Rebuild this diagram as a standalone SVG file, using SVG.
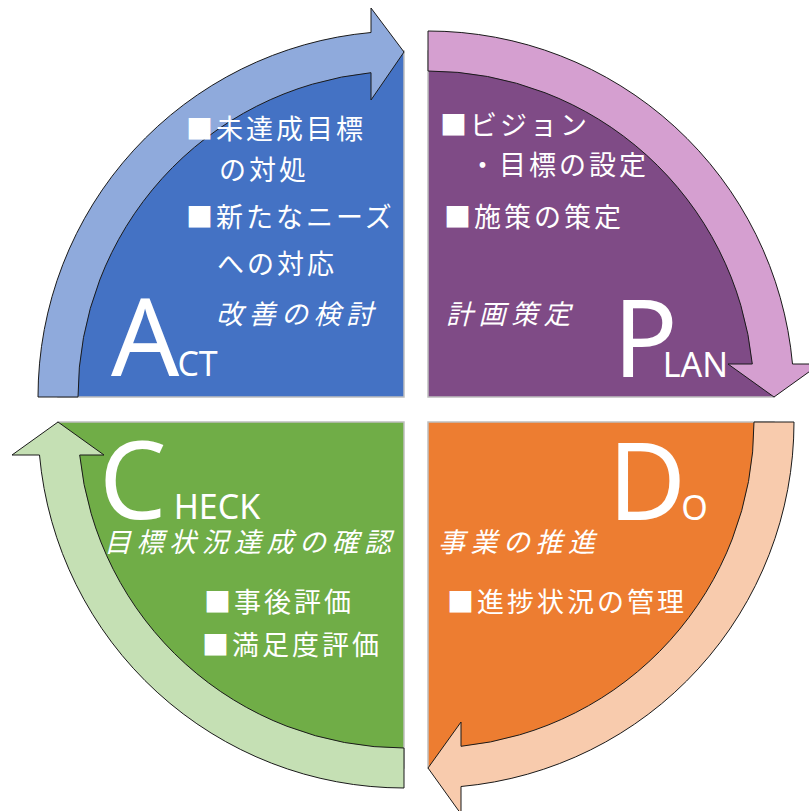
<svg xmlns="http://www.w3.org/2000/svg" width="809" height="811" viewBox="0 0 809 811">
<style>
.sector{stroke:#BFBFBF;stroke-width:1.5}
.arrow{stroke:#1A1A1A;stroke-width:1;stroke-linejoin:miter}
.jp{font-family:"Noto Sans CJK JP","Noto Sans",sans-serif;font-size:27px;fill:#FFFFFF;letter-spacing:3px}
.it{font-style:italic;letter-spacing:5.5px}
.big{font-family:"Noto Sans","Open Sans",sans-serif;font-size:107px;fill:#FFFFFF}
.sm{font-size:34px}
</style>
<rect width="809" height="811" fill="#FFFFFF"/>
<g id="act">
<path class="sector" d="M404,397 L58,397 A346,346 0 0 1 404,51 Z" fill="#4472C4"/>
</g>
<g id="plan">
<path class="sector" d="M428,397 L428,51 A346,346 0 0 1 774,397 Z" fill="#7F4B86"/>
</g>
<g id="do">
<path class="sector" d="M428,422 L774,422 A346,346 0 0 1 428,768 Z" fill="#ED7D31"/>
</g>
<g id="check">
<path class="sector" d="M404,422 L404,768 A346,346 0 0 1 58,422 Z" fill="#70AD47"/>
</g>
<g id="connectors">
<path id="arrow-act" class="arrow" fill="#8FAADC" d="M38,397 A366,366 0 0 1 371,32.5 L371,8 L404,52 L371,100 L371,72.7 A326,326 0 0 0 78,397 Z"/>
<path id="arrow-plan" class="arrow" fill="#D59FD0" d="M428,31 A366,366 0 0 1 792.5,364 L820,364 L774,397 L728,364 L752.3,364 A326,326 0 0 0 428,71 Z"/>
<path id="arrow-do" class="arrow" fill="#F8CBAD" d="M794,422 A366,366 0 0 1 461,786.5 L461,814 L428,768 L461,722 L461,746.3 A326,326 0 0 0 754,422 Z"/>
<path id="arrow-check" class="arrow" fill="#C5E0B4" d="M404,788 A366,366 0 0 1 39.5,455 L12,455 L58,422 L104,455 L79.7,455 A326,326 0 0 0 404,748 Z"/>
</g>
<g id="act-text">
<text class="jp" x="186" y="139">■未達成目標</text>
<text class="jp" x="219" y="180">の対処</text>
<text class="jp" x="186" y="227">■新たなニーズ</text>
<text class="jp" x="217" y="274">への対応</text>
<text class="jp it" x="216" y="324">改善の検討</text>
<text class="big" x="111" y="376">A<tspan class="sm" dx="-2">CT</tspan></text>
</g>
<g id="plan-text">
<text class="jp" x="440" y="135">■ビジョン</text>
<text class="jp" x="469" y="175">・目標の設定</text>
<text class="jp" x="444" y="227">■施策の策定</text>
<text class="jp it" x="446" y="324">計画策定</text>
<text class="big" x="613" y="377">P<tspan class="sm" dx="-15">LAN</tspan></text>
</g>
<g id="check-text">
<text class="big" x="99" y="519">C<tspan class="sm" dx="7">HECK</tspan></text>
<text class="jp it" x="104" y="552">目標状況達成の確認</text>
<text class="jp" x="204" y="612">■事後評価</text>
<text class="jp" x="202" y="655">■満足度評価</text>
</g>
<g id="do-text">
<text class="big" x="608" y="520">D<tspan class="sm" dx="-5">O</tspan></text>
<text class="jp it" x="438" y="552">事業の推進</text>
<text class="jp" x="447" y="612">■進捗状況の管理</text>
</g>
</svg>
